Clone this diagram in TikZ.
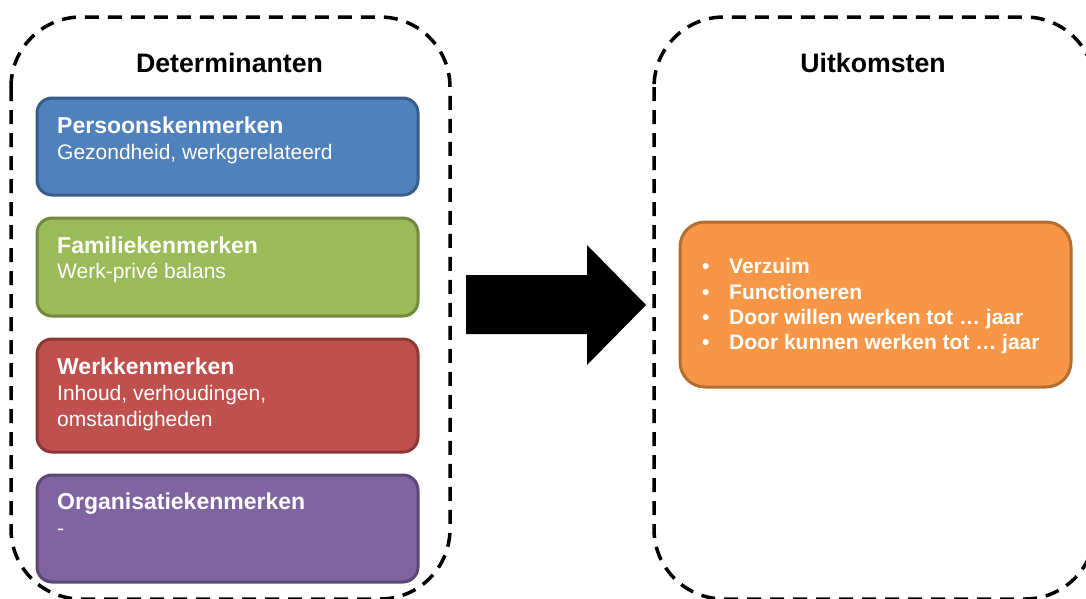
\documentclass[tikz,border=0pt]{standalone}
\usepackage{fontspec}
\setmainfont{Liberation Sans}
\definecolor{bluef}{HTML}{4F81BD}\definecolor{bluel}{HTML}{385D8A}
\definecolor{greenf}{HTML}{9BBB59}\definecolor{greenl}{HTML}{71893F}
\definecolor{redf}{HTML}{C0504D}\definecolor{redl}{HTML}{8C3836}
\definecolor{purf}{HTML}{8064A2}\definecolor{purl}{HTML}{5C4776}
\definecolor{orf}{HTML}{F79646}\definecolor{orl}{HTML}{B66D31}
\begin{document}
\begin{tikzpicture}[x=1pt,y=-1pt,
  group/.style={draw=black, line width=3.5pt, dash pattern=on 14pt off 9pt, rounded corners=70pt},
  card/.style={draw, line width=3pt, rounded corners=15pt, inner sep=0pt, outer sep=0pt},
  ttl/.style={anchor=base west, inner sep=0pt, text=white, font=\fontsize{23}{27}\selectfont\bfseries},
  sub/.style={anchor=base west, inner sep=0pt, text=white, font=\fontsize{21}{25}\selectfont},
  bul/.style={anchor=base west, inner sep=0pt, text=white, font=\fontsize{21}{25}\selectfont\bfseries},
  head/.style={anchor=base, inner sep=0pt, font=\fontsize{26.7}{30}\selectfont\bfseries}]
\useasboundingbox (0,0) rectangle (1086,598);
\clip (0,0) rectangle (1086,598);
\fill[white] (0,0) rectangle (1086,598);
% group frames
\draw[group] (11,17) rectangle (450,599);
\draw[group] (654,17) rectangle (1095,599);
\node[head] (det) at (229.5,72) {Determinanten};
\node[head] (uit) at (873,72) {Uitkomsten};
% cards
\draw[card, fill=bluef, draw=bluel] (37,98) rectangle (418,195);
\node[ttl] (p1) at (57,133) {Persoonskenmerken};
\node[sub] (p2) at (57,159) {Gezondheid, werkgerelateerd};
\draw[card, fill=greenf, draw=greenl] (37,218) rectangle (418,316);
\node[ttl] (f1) at (57,253) {Familiekenmerken};
\node[sub] (f2) at (57,278) {Werk-privé balans};
\draw[card, fill=redf, draw=redl] (37,339) rectangle (418,452);
\node[ttl] (w1) at (57,374) {Werkkenmerken};
\node[sub] (w2) at (57,400) {Inhoud, verhoudingen,};
\node[sub] (w3) at (57,426) {omstandigheden};
\draw[card, fill=purf, draw=purl] (37,475) rectangle (418,582);
\node[ttl] (o1) at (57,509) {Organisatiekenmerken};
\node[sub] (o2) at (57,535) {-};
% outcomes
\draw[card, rounded corners=25pt, fill=orf, draw=orl] (680,222) rectangle (1071,387);
\foreach \t [count=\i] in {Verzuim,Functioneren,Door willen werken tot … jaar,Door kunnen werken tot … jaar}{
  \node[bul] (b\i) at (702,248.5+25.3*\i) {•};
  \node[bul] (u\i) at (729,248.5+25.3*\i) {\t};
}
% big arrow
\fill[black] (466,275) -- (587,275) -- (587,245) -- (646,305) -- (587,365) -- (587,334) -- (466,334) -- cycle;
\end{tikzpicture}
\end{document}
